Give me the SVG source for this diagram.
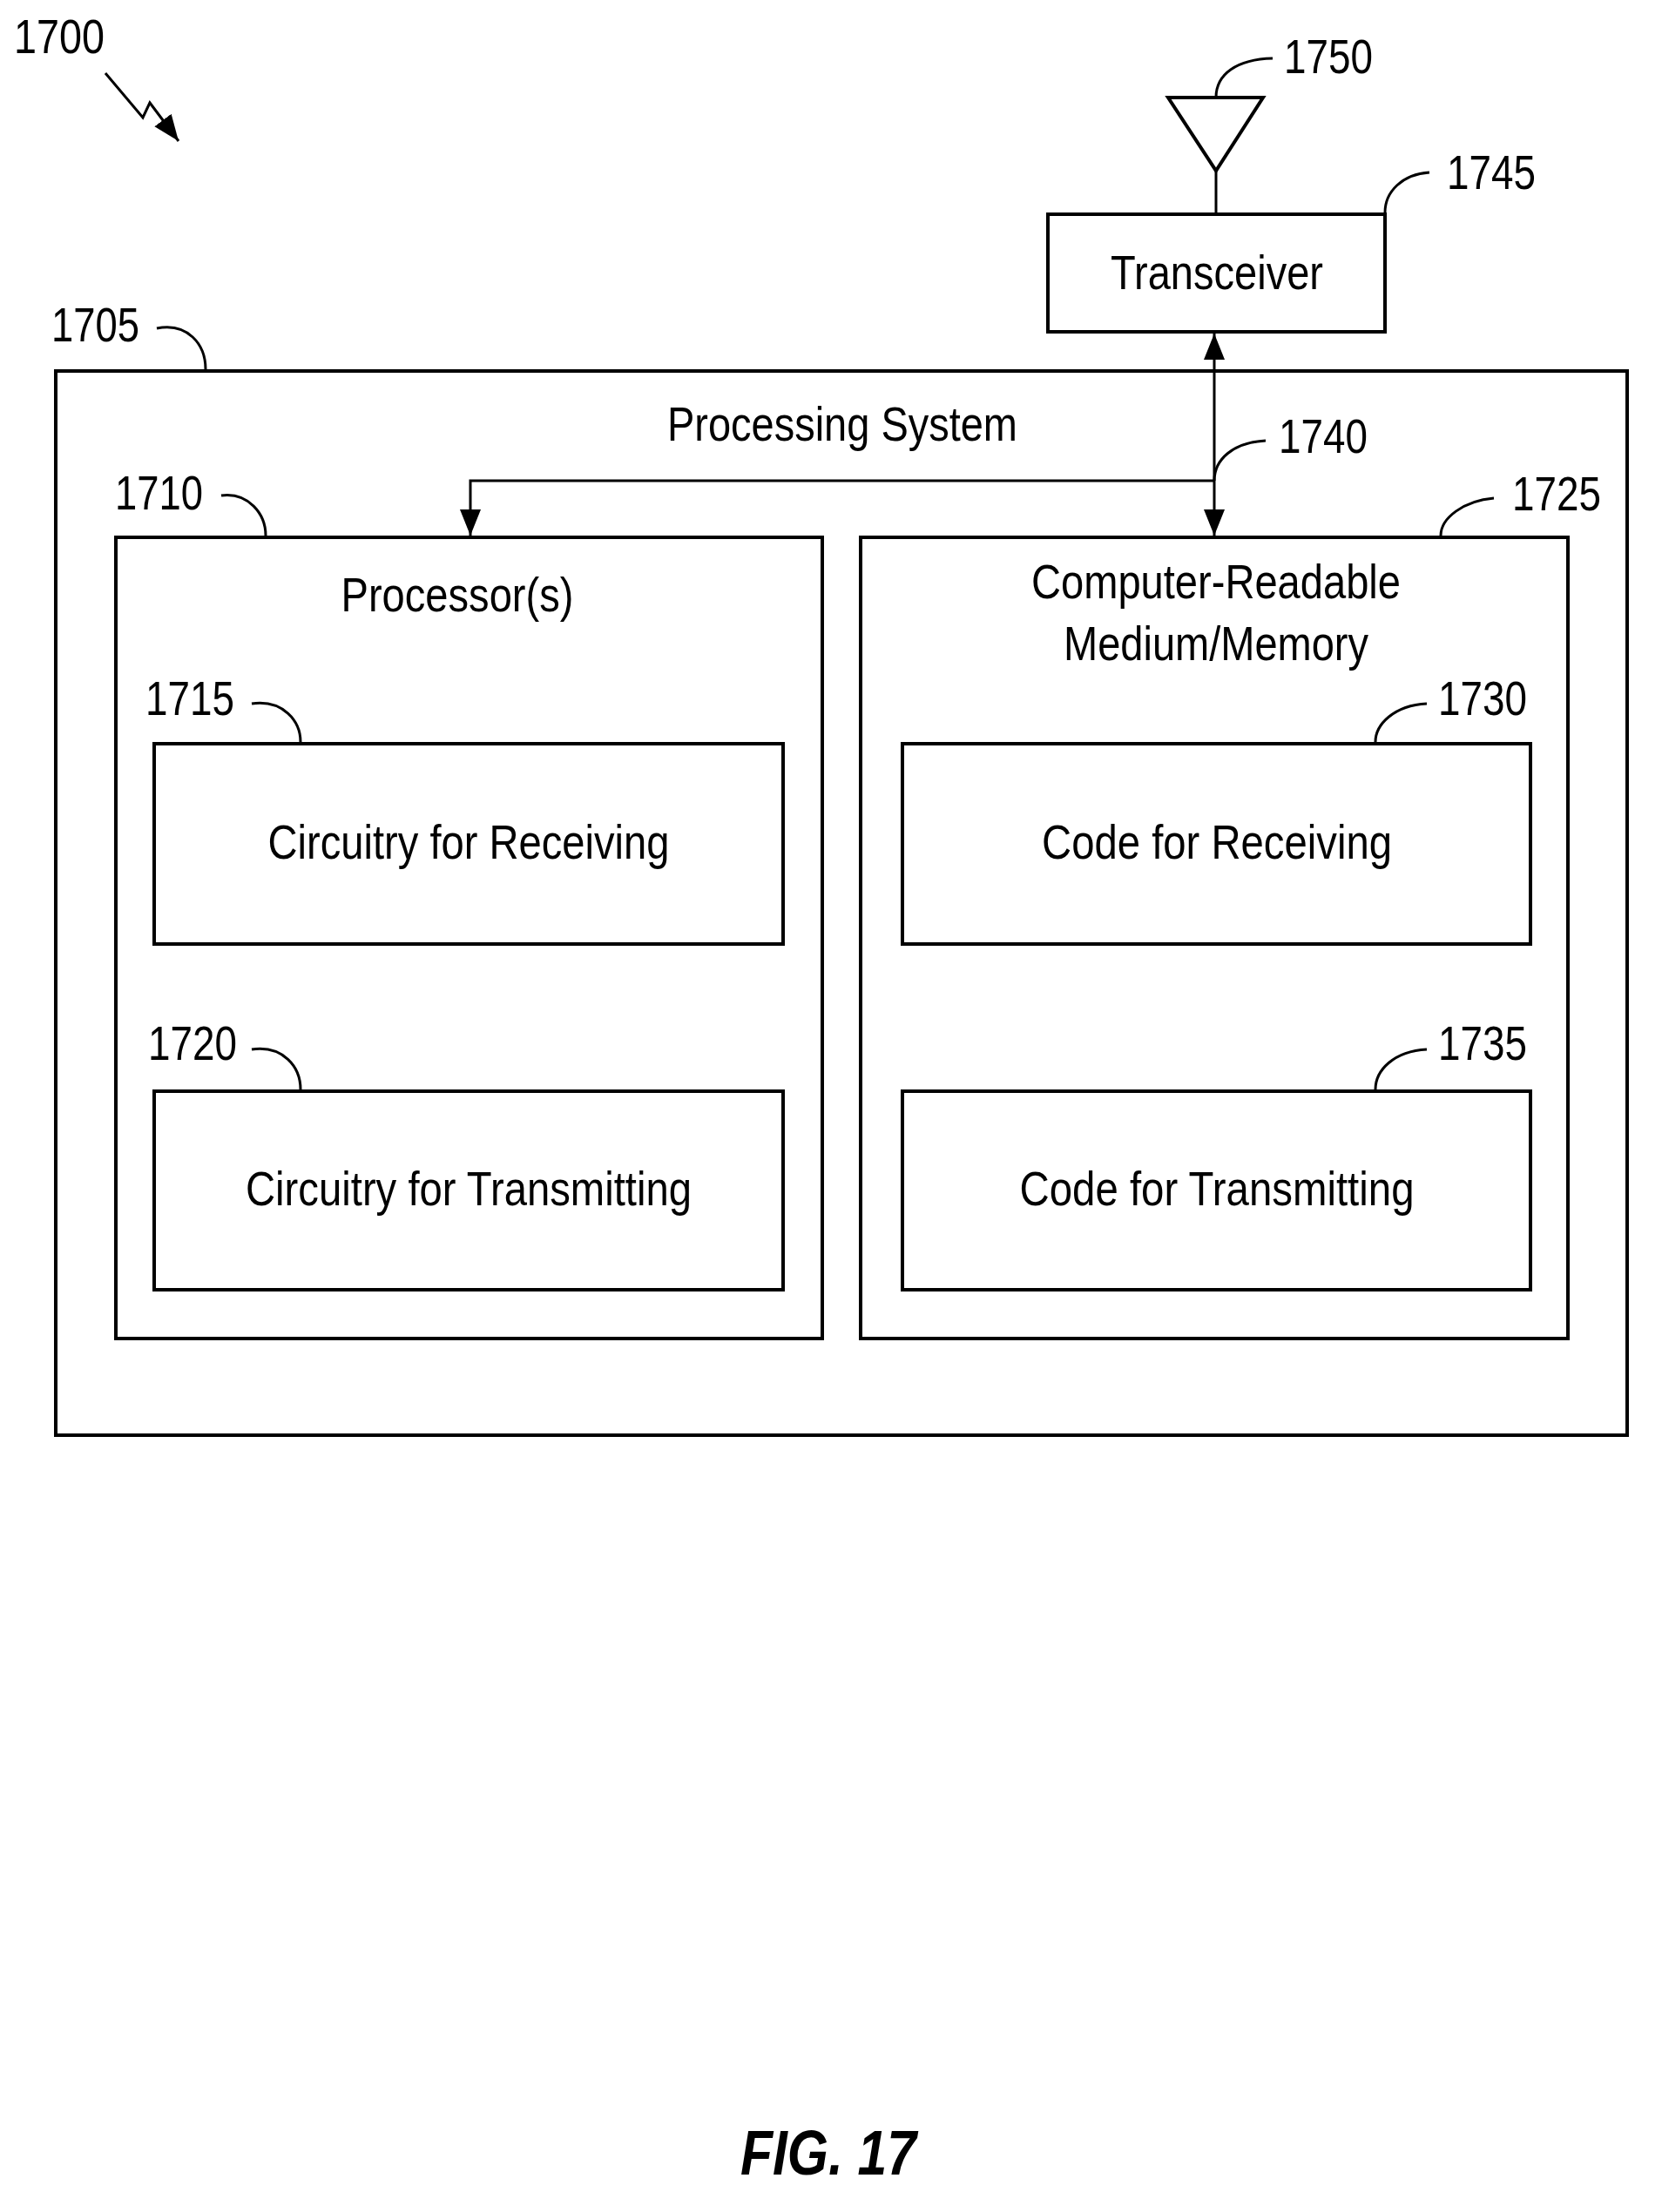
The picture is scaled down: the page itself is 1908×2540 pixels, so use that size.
<svg xmlns="http://www.w3.org/2000/svg" width="1908" height="2540" viewBox="0 0 1908 2540">
<style>
.b{fill:none;stroke:#000;stroke-width:4}
.l{fill:none;stroke:#000;stroke-width:3}
text{font-family:"Liberation Sans",Arial,sans-serif;font-size:56px;fill:#000}
.c{text-anchor:middle}
</style>
<defs>
<marker id="ah" viewBox="0 0 10 10" refX="10" refY="5" markerWidth="9" markerHeight="9" markerUnits="userSpaceOnUse" orient="auto-start-reverse"><path d="M0,0 L10,5 L0,10 Z" fill="#000"/></marker>
<marker id="ah2" viewBox="0 0 10 10" refX="10" refY="5" markerWidth="30" markerHeight="30" markerUnits="userSpaceOnUse" orient="auto-start-reverse"><path d="M0,1 L10,5 L0,9 Z" fill="#000"/></marker>
</defs>
<rect width="1908" height="2540" fill="#fff"/>
<g id="n1700">
<text x="16" y="61" textLength="104" lengthAdjust="spacingAndGlyphs">1700</text>
<path class="l" d="M121,84 L164,135 L172,118 L205,162" marker-end="url(#ah2)"/>
</g>
<g id="n1705">
<rect class="b" x="64" y="426" width="1804" height="1222"/>
<text class="c" x="967" y="506" textLength="402" lengthAdjust="spacingAndGlyphs">Processing System</text>
<text x="59" y="392" textLength="101" lengthAdjust="spacingAndGlyphs">1705</text>
<path class="l" d="M180,377 C215,370 236,395 236,424"/>
</g>
<g id="n1745">
<rect class="b" x="1203" y="246" width="387" height="135"/>
<text class="c" x="1397" y="332" textLength="244" lengthAdjust="spacingAndGlyphs">Transceiver</text>
<text x="1661" y="217" textLength="102" lengthAdjust="spacingAndGlyphs">1745</text>
<path class="l" d="M1641,198 C1610,200 1590,220 1590,244"/>
</g>
<g id="n1750">
<path class="b" d="M1341,112 L1450,112 L1396,196 Z"/>
<line class="l" x1="1396" y1="196" x2="1396" y2="246"/>
<text x="1474" y="84" textLength="102" lengthAdjust="spacingAndGlyphs">1750</text>
<path class="l" d="M1461,67 C1420,68 1396,85 1396,112"/>
</g>
<g id="n1710">
<rect class="b" x="133" y="617" width="811" height="920"/>
<text class="c" x="525" y="702" textLength="267" lengthAdjust="spacingAndGlyphs">Processor(s)</text>
<text x="132" y="585" textLength="101" lengthAdjust="spacingAndGlyphs">1710</text>
<path class="l" d="M254,569 C285,565 305,590 305,615"/>
</g>
<g id="n1715">
<rect class="b" x="177" y="854" width="722" height="230"/>
<text class="c" x="538" y="986" textLength="461" lengthAdjust="spacingAndGlyphs">Circuitry for Receiving</text>
<text x="167" y="821" textLength="102" lengthAdjust="spacingAndGlyphs">1715</text>
<path class="l" d="M289,808 C325,803 345,828 345,852"/>
</g>
<g id="n1720">
<rect class="b" x="177" y="1253" width="722" height="228"/>
<text class="c" x="538" y="1384" textLength="512" lengthAdjust="spacingAndGlyphs">Circuitry for Transmitting</text>
<text x="170" y="1217" textLength="102" lengthAdjust="spacingAndGlyphs">1720</text>
<path class="l" d="M289,1205 C325,1200 345,1225 345,1251"/>
</g>
<g id="n1725">
<rect class="b" x="988" y="617" width="812" height="920"/>
<text class="c" x="1396" y="687" textLength="424" lengthAdjust="spacingAndGlyphs">Computer-Readable</text>
<text class="c" x="1396" y="758" textLength="350" lengthAdjust="spacingAndGlyphs">Medium/Memory</text>
<text x="1736" y="586" textLength="102" lengthAdjust="spacingAndGlyphs">1725</text>
<path class="l" d="M1715,572 C1680,575 1654,595 1654,615"/>
</g>
<g id="n1730">
<rect class="b" x="1036" y="854" width="721" height="230"/>
<text class="c" x="1397" y="986" textLength="402" lengthAdjust="spacingAndGlyphs">Code for Receiving</text>
<text x="1651" y="821" textLength="102" lengthAdjust="spacingAndGlyphs">1730</text>
<path class="l" d="M1638,808 C1600,810 1579,832 1579,852"/>
</g>
<g id="n1735">
<rect class="b" x="1036" y="1253" width="721" height="228"/>
<text class="c" x="1397" y="1384" textLength="453" lengthAdjust="spacingAndGlyphs">Code for Transmitting</text>
<text x="1651" y="1217" textLength="102" lengthAdjust="spacingAndGlyphs">1735</text>
<path class="l" d="M1638,1205 C1600,1207 1579,1229 1579,1251"/>
</g>
<g id="connectors">
<line class="l" x1="1394" y1="383" x2="1394" y2="615" marker-start="url(#ah2)" marker-end="url(#ah2)"/>
<path class="l" d="M1394,552 L540,552 L540,615" marker-end="url(#ah2)"/>
<text x="1468" y="520" textLength="102" lengthAdjust="spacingAndGlyphs">1740</text>
<path class="l" d="M1453,506 C1415,508 1394,528 1394,552"/>
</g>
<text class="c" x="951" y="2497" style="font-weight:bold;font-style:italic;font-size:72px" textLength="202" lengthAdjust="spacingAndGlyphs">FIG. 17</text>
</svg>
